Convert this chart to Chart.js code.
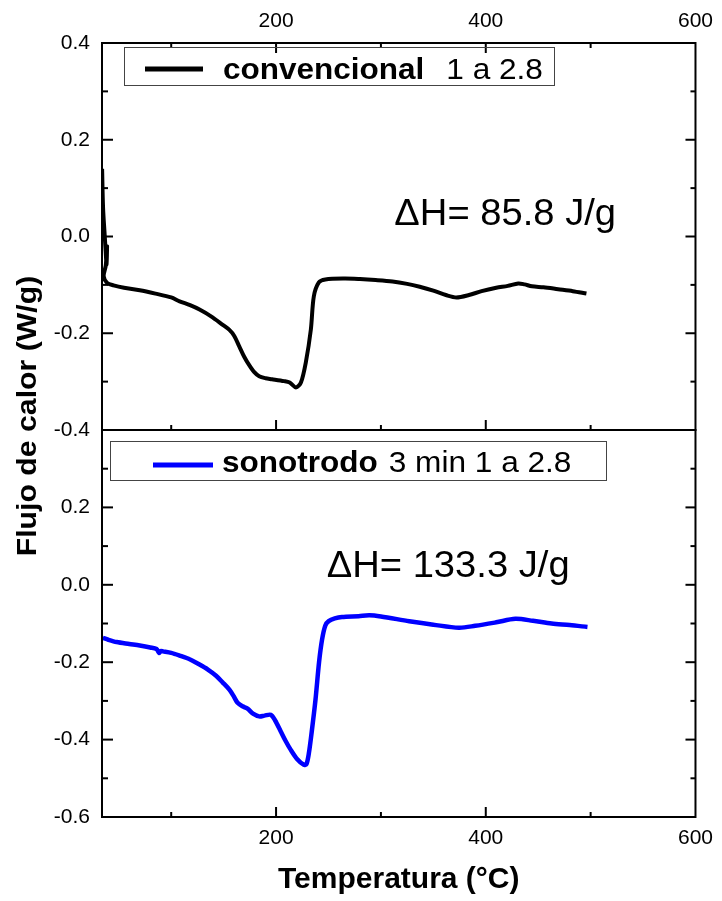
<!DOCTYPE html>
<html>
<head>
<meta charset="utf-8">
<script src="https://cdn.jsdelivr.net/npm/chart.js@4.4.1/dist/chart.umd.min.js"></script>
<style>
  html, body { margin: 0; padding: 0; background: #fff; }
  #wrap { width: 722px; height: 901px; }
</style>
</head>
<body>
<div id="wrap"><canvas id="dscChart"></canvas></div>
<script>
// convencional 1 a 2.8 (top panel)
const tempConv = [34.1, 35.0, 36.5, 37.5, 38.3, 38.8, 37.6, 35.6, 38.9, 45, 55, 70, 85, 100, 108, 118, 127, 138, 148.8, 155.5, 160, 164.9, 169.5, 174.4, 179, 183.9, 190, 196.2, 207.6, 213, 219, 223.7, 228.4, 233.2, 236, 240.8, 247, 265, 280, 295, 311, 325, 337, 350, 362, 372, 384, 396, 410, 421, 431, 437, 444, 455, 469, 483, 496];
const flowConv = [0.140, 0.060, 0.005, -0.030, -0.058, -0.020, -0.060, -0.082, -0.096, -0.101, -0.106, -0.111, -0.118, -0.126, -0.134, -0.142, -0.151, -0.165, -0.182, -0.193, -0.205, -0.227, -0.248, -0.266, -0.280, -0.289, -0.293, -0.295, -0.299, -0.302, -0.312, -0.302, -0.260, -0.192, -0.124, -0.095, -0.089, -0.087, -0.088, -0.090, -0.093, -0.098, -0.104, -0.112, -0.121, -0.126, -0.121, -0.113, -0.106, -0.102, -0.097, -0.099, -0.103, -0.105, -0.109, -0.113, -0.118];

// sonotrodo 3 min 1 a 2.8 (bottom panel)
const tempSono = [34.8, 40, 48, 60, 70, 80, 86, 88.5, 90, 92.2, 100, 108, 118, 127, 135, 142.8, 149, 155.5, 160, 163.3, 168, 172.8, 178, 183.9, 189, 195, 199, 204.5, 209, 213.9, 220, 226.5, 229, 231.3, 234, 237.6, 241, 243.9, 247, 250.2, 256, 262.8, 278.7, 289, 300, 327, 350, 374.4, 390, 410, 428.2, 445, 462.8, 480, 497];
const flowSono = [-0.137, -0.142, -0.148, -0.153, -0.157, -0.162, -0.166, -0.176, -0.171, -0.172, -0.176, -0.183, -0.193, -0.206, -0.219, -0.235, -0.252, -0.271, -0.290, -0.305, -0.314, -0.320, -0.333, -0.340, -0.338, -0.336, -0.350, -0.379, -0.403, -0.426, -0.450, -0.465, -0.463, -0.435, -0.380, -0.297, -0.200, -0.141, -0.105, -0.094, -0.087, -0.083, -0.081, -0.079, -0.082, -0.094, -0.103, -0.111, -0.106, -0.097, -0.088, -0.093, -0.100, -0.104, -0.109];

const seriesNames = ['convencional', 'sonotrodo'];
const seriesNotes = ['1 a 2.8', '3 min 1 a 2.8'];
const seriesColors = ['#000000', '#0000ff'];
const enthalpyLabels = ['\u0394H= 85.8 J/g', '\u0394H= 133.3 J/g'];

const xTicks = [200, 400, 600];
const xMinorTicks = [100, 300, 500];
const yTicksTop = [0.4, 0.2, 0.0, -0.2, -0.4];
const yMinorTop = [0.3, 0.1, -0.1, -0.3];
const yTicksBottom = [0.2, 0.0, -0.2, -0.4, -0.6];
const yMinorBottom = [0.3, 0.1, -0.1, -0.3, -0.5];

const toPoints = (xs, ys) => xs.map((x, i) => ({ x: x, y: ys[i] }));
const fixTicks = list => scale => { scale.ticks = list.map(v => ({ value: v })); };

function stretchText(ctx, text, x, y, font, sx) {
	ctx.save();
	ctx.font = font;
	ctx.translate(x, y);
	ctx.scale(sx, 1);
	ctx.fillText(text, 0, 0);
	const w = ctx.measureText(text).width * sx;
	ctx.restore();
	return w;
}

// frame with inward ticks on all sides of both panels
const framePlugin = {
	id: 'frame',
	afterDraw(chart) {
		const { ctx } = chart;
		const x = chart.scales.x;
		const panels = [
			{ y: chart.scales.yTop, major: yTicksTop, minor: yMinorTop, topTicks: true },
			{ y: chart.scales.yBot, major: yTicksBottom, minor: yMinorBottom, topTicks: false }
		];
		const line = (x1, y1, x2, y2) => { ctx.beginPath(); ctx.moveTo(x1, y1); ctx.lineTo(x2, y2); ctx.stroke(); };
		ctx.save();
		ctx.strokeStyle = '#000';
		ctx.lineWidth = 2;
		panels.forEach(p => {
			ctx.strokeRect(x.left, p.y.top, x.right - x.left, p.y.bottom - p.y.top);
			p.major.concat(p.minor).forEach(v => {
				if (v >= p.y.max || v <= p.y.min) return;
				const major = p.major.includes(v);
				const py = p.y.getPixelForValue(v);
				line(x.left, py, x.left + (major ? 11 : 6), py);
				line(x.right, py, x.right - (major ? 10 : 5), py);
			});
			xTicks.concat(xMinorTicks).forEach(v => {
				if (v >= x.max) return;
				const len = xTicks.includes(v) ? 10 : 5;
				const px = x.getPixelForValue(v);
				line(px, p.y.bottom, px, p.y.bottom - len);
				if (p.topTicks) line(px, p.y.top, px, p.y.top + len);
			});
		});
		ctx.restore();
	}
};

// boxed legends, enthalpy notes and y title
const notesPlugin = {
	id: 'notes',
	afterDraw(chart) {
		const { ctx } = chart;
		const x = chart.scales.x;
		const axes = [chart.scales.yTop, chart.scales.yBot];
		const boxes = [
			{ dx: 22, dy: 4, w: 430, h: 38, l1: 21, l2: 79, tx: 99, gap: 22, ly: 22, by: 32 },
			{ dx: 8, dy: 11, w: 496, h: 39, l1: 43, l2: 103, tx: 112, gap: 11, ly: 24, by: 31 }
		];
		const notePos = [{ t: 312.8, v: 0.023 }, { t: 248.3, v: 0.021 }];
		ctx.save();
		boxes.forEach((b, i) => {
			const y = axes[i];
			const bx = x.left + b.dx, by = y.top + b.dy;
			ctx.strokeStyle = '#444';
			ctx.lineWidth = 1;
			ctx.strokeRect(bx + 0.5, by + 0.5, b.w, b.h);
			const ds = chart.data.datasets[i];
			ctx.strokeStyle = ds.borderColor;
			ctx.lineWidth = 5;
			ctx.beginPath();
			ctx.moveTo(bx + b.l1, by + b.ly);
			ctx.lineTo(bx + b.l2, by + b.ly);
			ctx.stroke();
			ctx.fillStyle = '#000';
			ctx.textBaseline = 'alphabetic';
			ctx.textAlign = 'left';
			const w = stretchText(ctx, ds.label, bx + b.tx, by + b.by, 'bold 29px "Liberation Sans", Arial, sans-serif', 1.086);
			stretchText(ctx, seriesNotes[i], bx + b.tx + w + b.gap, by + b.by, '29px "Liberation Sans", Arial, sans-serif', 1.09);

			stretchText(ctx, enthalpyLabels[i], x.getPixelForValue(notePos[i].t), y.getPixelForValue(notePos[i].v), '36px "Liberation Sans", Arial, sans-serif', 1.06);
		});

		ctx.translate(28, 416);
		ctx.rotate(-Math.PI / 2);
		ctx.textAlign = 'center';
		ctx.textBaseline = 'middle';
		ctx.scale(1.08, 1);
		ctx.font = 'bold 28px "Liberation Sans", Arial, sans-serif';
		ctx.fillText('Flujo de calor (W/g)', 0, 0);
		ctx.restore();
	}
};

Chart.defaults.font.family = '"Liberation Sans", Arial, sans-serif';
Chart.defaults.color = '#000';

const tickFont = { size: 21 };
const noGrid = { display: false, drawTicks: false };

const ctx = document.getElementById('dscChart').getContext('2d');
const dscChart = new Chart(ctx, {
	type: 'line',
	data: {
		datasets: [{
			label: seriesNames[0],
			data: toPoints(tempConv, flowConv),
			yAxisID: 'yTop',
			borderColor: seriesColors[0],
			borderWidth: 4,
			pointRadius: 0,
			tension: 0.3,
			fill: false
		}, {
			label: seriesNames[1],
			data: toPoints(tempSono, flowSono),
			yAxisID: 'yBot',
			borderColor: seriesColors[1],
			borderWidth: 4.5,
			pointRadius: 0,
			tension: 0.3,
			fill: false
		}]
	},
	options: {
		responsive: true,
		maintainAspectRatio: false,
		animation: false,
		layout: { padding: { top: 0, right: 23, bottom: 0, left: 0 } },
		plugins: { legend: { display: false }, tooltip: { enabled: false } },
		scales: {
			x: {
				type: 'linear', position: 'bottom', min: 34, max: 600,
				afterBuildTicks: fixTicks(xTicks),
				afterFit: s => { s.height = 84; },
				grid: noGrid, border: { display: false },
				ticks: { font: tickFont, padding: 9, autoSkip: false, maxRotation: 0 },
				title: { display: true, text: 'Temperatura (°C)', font: { size: 30, weight: 'bold' }, padding: { top: 0, bottom: 3 } }
			},
			xTop: {
				type: 'linear', position: 'top', min: 34, max: 600,
				afterBuildTicks: fixTicks(xTicks),
				afterFit: s => { s.height = 43; },
				grid: noGrid, border: { display: false },
				ticks: { font: tickFont, padding: 9, autoSkip: false, maxRotation: 0 }
			},
			yBot: {
				type: 'linear', position: 'left', stack: 'panels', stackWeight: 1, weight: 0,
				min: -0.6, max: 0.4,
				afterBuildTicks: fixTicks(yTicksBottom),
				afterFit: s => { s.width = 102; },
				grid: noGrid, border: { display: false },
				ticks: { font: tickFont, padding: 12, autoSkip: false, callback: v => v.toFixed(1) }
			},
			yTop: {
				type: 'linear', position: 'left', stack: 'panels', stackWeight: 1, weight: 1,
				min: -0.4, max: 0.4,
				afterBuildTicks: fixTicks(yTicksTop),
				afterFit: s => { s.width = 102; },
				grid: noGrid, border: { display: false },
				ticks: { font: tickFont, padding: 12, autoSkip: false, callback: v => v.toFixed(1) }
			}
		}
	},
	plugins: [framePlugin, notesPlugin]
});
</script>
</body>
</html>
